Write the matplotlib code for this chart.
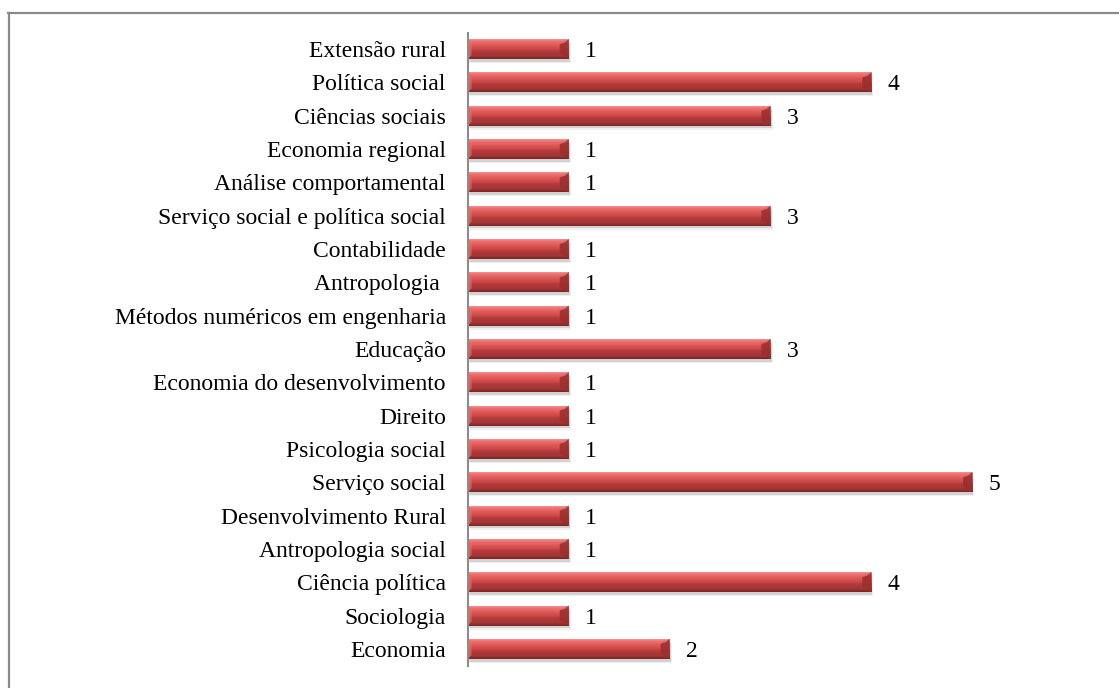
import numpy as np
import matplotlib
matplotlib.use("Agg")
import matplotlib.pyplot as plt
from matplotlib.colors import LinearSegmentedColormap
from matplotlib.lines import Line2D
from matplotlib.patches import Polygon

categories = [
    "Extensão rural", "Política social", "Ciências sociais", "Economia regional",
    "Análise comportamental", "Serviço social e política social", "Contabilidade",
    "Antropologia ", "Métodos numéricos em engenharia", "Educação",
    "Economia do desenvolvimento", "Direito", "Psicologia social", "Serviço social",
    "Desenvolvimento Rural", "Antropologia social", "Ciência política",
    "Sociologia", "Economia",
]
values = [1, 4, 3, 1, 1, 3, 1, 1, 1, 3, 1, 1, 1, 5, 1, 1, 4, 1, 2]

plt.rcParams["font.family"] = ["Liberation Serif", "DejaVu Serif"]

W, H = 1119, 688
fig = plt.figure(figsize=(W / 100, H / 100), dpi=100)
ax = fig.add_axes([468 / W, 1 - 665.5 / H, 605 / W, (665.5 - 32.5) / H])

y = np.arange(len(categories))
bh = 0.6

# vertical gradient for the bevelled red bars (top -> bottom)
grad = LinearSegmentedColormap.from_list("bar", [
    (0.00, "#f29090"), (0.10, "#ee7272"), (0.30, "#e05858"),
    (0.50, "#cc4747"), (0.60, "#b23b3b"), (0.85, "#a43535"), (1.00, "#7a2424"),
])
g = np.linspace(0, 1, 64).reshape(-1, 1)

# soft shadow
ax.barh(y + 0.08, values, height=bh, left=0.01, color="#000000", alpha=0.12,
        linewidth=0, zorder=1)
ax.barh(y + 0.12, values, height=bh, left=0.02, color="#000000", alpha=0.06,
        linewidth=0, zorder=1)

bars = ax.barh(y, values, height=bh, color="#c84040", linewidth=0, zorder=2)
for b, v, yy in zip(bars, values, y):
    im = ax.imshow(g, cmap=grad, aspect="auto", zorder=3,
                   extent=[0, v, yy + bh / 2, yy - bh / 2])
    im.set_clip_path(b)
    d = 0.09
    top, bot = yy - bh / 2, yy + bh / 2
    # right-end bevel
    ax.add_patch(Polygon([(v - d, top + 0.15), (v, top), (v, bot), (v - d, bot - 0.15)],
                         closed=True, color="#9a2e2e", alpha=0.85, lw=0, zorder=4))
    ax.add_patch(Polygon([(v - d, top + 0.15), (v, top), (v - d * 0.4, top + 0.09)],
                         closed=True, color="#f08888", alpha=0.9, lw=0, zorder=4))
    ax.add_patch(Polygon([(0, top), (0.035, top + 0.12), (0.035, bot - 0.12), (0, bot)],
                         closed=True, color="#e07070", alpha=0.7, lw=0, zorder=4))
    ax.text(v + 0.16, yy, str(v), va="center_baseline", ha="left", fontsize=17, zorder=5)

ax.set_xlim(0, 6)
ax.set_ylim(len(categories) - 0.5, -0.5)
ax.set_yticks(y)
ax.set_yticklabels(categories, fontsize=17)
ax.tick_params(axis="y", length=0, pad=16)
ax.set_xticks([])
for s in ["top", "right", "bottom"]:
    ax.spines[s].set_visible(False)
ax.spines["left"].set_color("#8c8c8c")
ax.spines["left"].set_linewidth(1.5)
ax.spines["left"].set_zorder(6)

# chart frame (only top and left edges visible)
fig.add_artist(Line2D([8 / W, 1], [1 - 12.5 / H, 1 - 12.5 / H], color="#8a8a8a", lw=1.6))
fig.add_artist(Line2D([8.5 / W, 8.5 / W], [0, 1 - 12.5 / H], color="#8a8a8a", lw=1.6))

fig.savefig("out.png", dpi=100)
